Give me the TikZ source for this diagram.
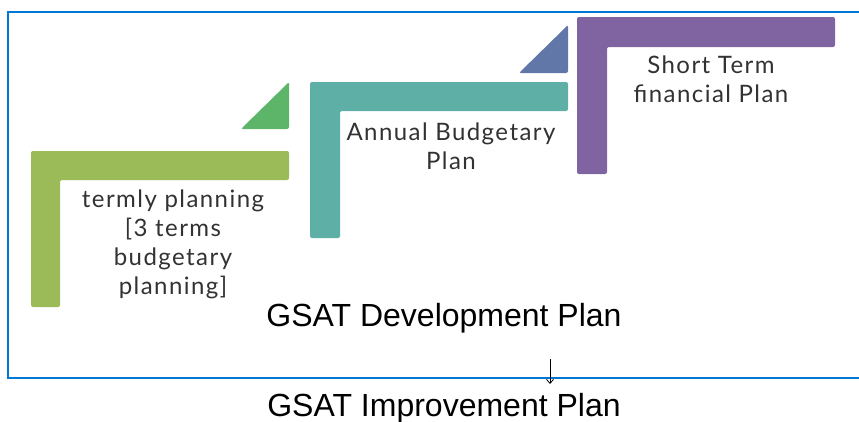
\documentclass[tikz,border=0pt]{standalone}
\usetikzlibrary{arrows.meta}
\usepackage{fontspec}
\setmainfont{Lato}
\newfontfamily\stepfont{Lato}[LetterSpace=6]
\newfontfamily\arialfont{Liberation Sans}
\definecolor{frameblue}{RGB}{0,120,212}
\definecolor{lgreen}{RGB}{155,187,89}
\definecolor{tgreen}{RGB}{92,181,104}
\definecolor{teal}{RGB}{94,175,166}
\definecolor{tblue}{RGB}{96,119,168}
\definecolor{purp}{RGB}{128,100,162}
\definecolor{txt}{RGB}{50,50,50}
\tikzset{
  lshape/.style={rounded corners=2pt, draw=none},
  tri/.style={rounded corners=2pt, draw=none},
  steptext/.style={align=center, text=txt, font=\stepfont\fontsize{24}{29}\selectfont, inner sep=0pt},
  bigtext/.style={font=\arialfont\fontsize{32}{36}\selectfont, inner sep=0pt, text=black},
}
\begin{document}
\begin{tikzpicture}[x=1pt,y=-1pt]
\useasboundingbox (0,0) rectangle (859,421);
% frame
\draw[frameblue, line width=1.2pt] (859,12) -- (8,12) -- (8,378) -- (859,378);
% green L
\fill[lgreen, lshape] (31,151) -- (289,151) -- (289,180) -- (60,180) -- (60,307) -- (31,307) -- cycle;
\fill[tgreen, tri] (241,129) -- (289,82) -- (289,129) -- cycle;
% teal L
\fill[teal, lshape] (310,82) -- (568,82) -- (568,111) -- (340,111) -- (340,238) -- (310,238) -- cycle;
\fill[tblue, tri] (519,73) -- (568,25) -- (568,73) -- cycle;
% purple L
\fill[purp, lshape] (577,17) -- (835,17) -- (835,47) -- (607,47) -- (607,174) -- (577,174) -- cycle;
% texts
\node[steptext] (termly) at (173,244) {termly planning\\{}[3 terms\\budgetary\\planning]};
\node[steptext] (annual) at (451,146) {Annual Budgetary\\Plan};
\node[steptext] (short) at (711,79) {Short Term\\financial Plan};
\node[bigtext] (dev) at (444,318) {GSAT Development Plan};
\node[bigtext] (imp) at (444,408) {GSAT Improvement Plan};
\coordinate (a1) at (550,359);
\coordinate (a2) at (550,384);
\draw[-{Straight Barb[length=4pt,width=7pt]}, line width=0.8pt] (a1) -- (a2);
\end{tikzpicture}
\end{document}
